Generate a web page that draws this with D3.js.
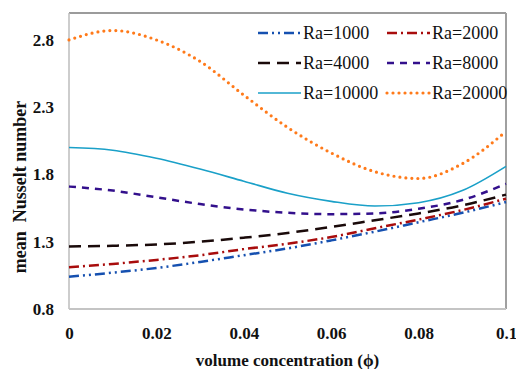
<!DOCTYPE html>
<html>
<head>
<meta charset="utf-8">
<script src="https://cdn.jsdelivr.net/npm/d3@7"></script>
<style>
  body { margin: 0; background: #fff; }
</style>
</head>
<body>
<div id="graph"></div>
<script>
// volume concentration values (x)
var phi = [0, 0.01, 0.02, 0.03, 0.04, 0.05, 0.06, 0.07, 0.08, 0.09, 0.1];

// mean Nusselt number for each Rayleigh number
var ra1000  = [1.04, 1.07, 1.105, 1.15, 1.20, 1.25, 1.31, 1.375, 1.445, 1.515, 1.595];
var ra2000  = [1.11, 1.135, 1.165, 1.20, 1.245, 1.285, 1.335, 1.40, 1.465, 1.535, 1.62];
var ra4000  = [1.265, 1.27, 1.28, 1.30, 1.33, 1.365, 1.41, 1.46, 1.51, 1.57, 1.65];
var ra8000  = [1.71, 1.68, 1.63, 1.58, 1.54, 1.515, 1.505, 1.51, 1.545, 1.61, 1.73];
var ra10000 = [2.00, 1.98, 1.92, 1.84, 1.75, 1.66, 1.60, 1.565, 1.59, 1.68, 1.86];
var ra20000 = [2.80, 2.87, 2.80, 2.64, 2.39, 2.15, 1.96, 1.82, 1.77, 1.88, 2.12];

var labels = ["Ra=1000", "Ra=2000", "Ra=4000", "Ra=8000", "Ra=10000", "Ra=20000"];
var xTicks = [0, 0.02, 0.04, 0.06, 0.08, 0.1];
var yTicks = [0.8, 1.3, 1.8, 2.3, 2.8];

// line styles, in the same order as labels
var styles = [
  {color: "#1550b0", dash: "10,4,2,4,2,4", width: 2.5, cap: "butt"},
  {color: "#a80c0c", dash: "10,4,2,4", width: 2.5, cap: "butt"},
  {color: "#1a0a0a", dash: "12,7", width: 2.5, cap: "butt"},
  {color: "#33108c", dash: "7,6", width: 2.5, cap: "butt"},
  {color: "#1aa0c8", dash: null, width: 1.6, cap: "butt"},
  {color: "#ff7a1a", dash: "0,6", width: 3.2, cap: "round"}
];

var series = [ra1000, ra2000, ra4000, ra8000, ra10000, ra20000];

var serif = "'Liberation Serif'";

var W = 516, H = 369;
var margin = {top: 13, right: 10, bottom: 60, left: 69},
    width = W - margin.left - margin.right,
    height = 309 - margin.top;

var x = d3.scaleLinear().domain([0, 0.1]).range([0, width]);
var y = d3.scaleLinear().domain([0.8, 3.0]).range([height, 0]);

var svg = d3.select("#graph").append("svg")
    .attr("width", W)
    .attr("height", H);

var g = svg.append("g")
    .attr("transform", "translate(" + margin.left + "," + margin.top + ")");

// frame of the plot area
g.append("line").attr("x1", 0).attr("x2", width).attr("y1", 0).attr("y2", 0)
  .attr("stroke", "#7a7a7a").attr("stroke-width", 1.5);
g.append("line").attr("x1", width).attr("x2", width).attr("y1", 0).attr("y2", height)
  .attr("stroke", "#a0a0a0").attr("stroke-width", 2);
g.append("line").attr("x1", 0).attr("x2", 0).attr("y1", 0).attr("y2", height)
  .attr("stroke", "#bdbdbd").attr("stroke-width", 1.5);
g.append("line").attr("x1", 0).attr("x2", width).attr("y1", height).attr("y2", height)
  .attr("stroke", "#c4c4c4").attr("stroke-width", 2);

// axes: only labels, no tick marks
var xAxis = g.append("g")
    .attr("transform", "translate(0," + height + ")")
    .attr("font-family", null)
    .call(d3.axisBottom(x).tickValues(xTicks).tickSize(0).tickPadding(18)
      .tickFormat(function(d) { return d === 0 ? "0" : d3.format("~g")(d); }));
xAxis.attr("font-family", null).attr("font-size", null);
xAxis.select(".domain").remove();
xAxis.selectAll("text")
    .style("font-family", serif).style("font-size", "17px").style("font-weight", "bold")
    .attr("fill", "#111");

var yAxis = g.append("g")
    .call(d3.axisLeft(y).tickValues(yTicks).tickSize(0).tickPadding(15)
      .tickFormat(d3.format(".1f")));
yAxis.attr("font-family", null).attr("font-size", null);
yAxis.select(".domain").remove();
yAxis.selectAll("text")
    .style("font-family", serif).style("font-size", "17px").style("font-weight", "bold")
    .attr("fill", "#111");

// curves
var line = d3.line()
    .x(function(d) { return x(d[0]); })
    .y(function(d) { return y(d[1]); })
    .curve(d3.curveMonotoneX);

series.forEach(function(vals, i) {
  var s = styles[i];
  g.append("path")
    .datum(phi.map(function(p, j) { return [p, vals[j]]; }))
    .attr("fill", "none")
    .attr("stroke", s.color)
    .attr("stroke-width", s.width)
    .attr("stroke-linecap", s.cap)
    .attr("stroke-dasharray", s.dash)
    .attr("d", line);
});

// legend, two columns by three rows
var legend = svg.append("g");
labels.forEach(function(lab, i) {
  var col = i % 2, row = Math.floor(i / 2);
  var lx = 258 + col * 129, ly = 33 + row * 30;
  var s = styles[i];
  var item = legend.append("g").attr("transform", "translate(" + lx + "," + ly + ")");
  item.append("line")
    .attr("x1", 0).attr("x2", 43).attr("y1", 0).attr("y2", 0)
    .attr("stroke", s.color)
    .attr("stroke-width", s.width)
    .attr("stroke-linecap", s.cap)
    .attr("stroke-dasharray", s.dash);
  item.append("text")
    .attr("x", 45).attr("y", 6)
    .style("font-family", serif).style("font-size", "18px")
    .attr("fill", "#111")
    .text(lab);
});

// axis titles
svg.append("text")
    .attr("x", margin.left + width / 2)
    .attr("y", 366)
    .attr("text-anchor", "middle")
    .style("font-family", serif).style("font-size", "17px").style("font-weight", "bold")
    .attr("fill", "#111")
    .text("volume concentration (\u03d5)");

svg.append("text")
    .attr("transform", "translate(26,187) rotate(-90)")
    .attr("text-anchor", "middle")
    .style("font-family", serif).style("font-size", "18px").style("font-weight", "bold")
    .style("white-space", "pre")
    .attr("fill", "#111")
    .text("mean  Nusselt number");
</script>
</body>
</html>
